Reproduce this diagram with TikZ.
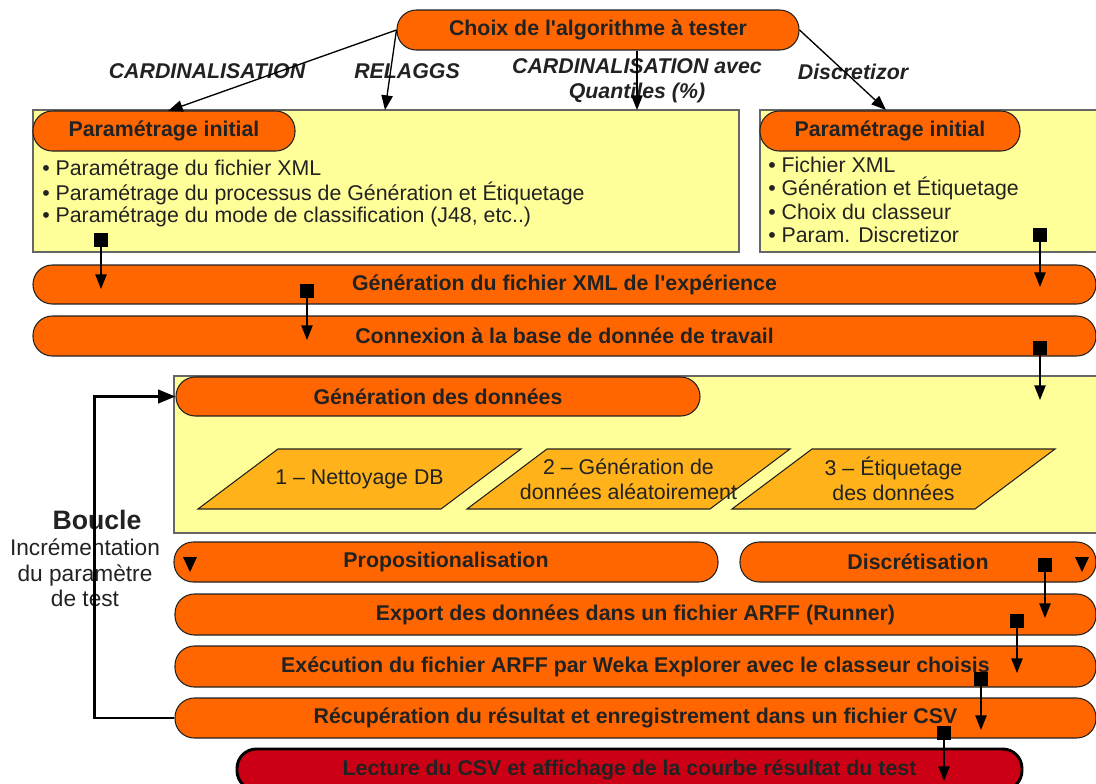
\documentclass[tikz,border=0pt]{standalone}
\usepackage{fontspec}
\setmainfont{Liberation Sans}[Ligatures=TeXOff]
\usetikzlibrary{arrows.meta}

\definecolor{barorange}{RGB}{255,102,0}
\definecolor{paleyellow}{RGB}{255,255,153}
\definecolor{stepgold}{RGB}{255,178,26}
\definecolor{endred}{RGB}{204,0,20}
\definecolor{ink}{RGB}{34,34,34}

\newcommand{\diagfont}{\fontsize{16}{19}\selectfont}

\tikzset{
    % boxat={x1}{y1}{x2}{y2}: node covering that rectangle (pixel units)
    boxat/.style n args={4}{at={({(#1+#3)/2},{(#2+#4)/2})},
        minimum width={(#3-#1)*0.75pt}, minimum height={(#4-#2)*0.75pt}},
    bar/.style={draw=ink, line width=0.8pt, fill=barorange, rounded corners=14.5pt,
        inner sep=0pt, font=\diagfont\bfseries, text=ink},
    panel/.style={draw=black!60, line width=0.8pt, fill=paleyellow, inner sep=0pt},
    stepbox/.style={draw=ink, line width=0.8pt, fill=stepgold},
    sqmark/.style={fill=black, inner sep=0pt, minimum size=10.5pt},
    link/.style={-{Triangle[length=11pt,width=8.5pt]}, line width=1pt},
    backline/.style={-{Triangle[length=13pt,width=10pt]}, line width=2.2pt},
    algo/.style={font=\diagfont\bfseries\itshape, text=ink},
    bullet/.style={anchor=west, inner sep=0pt, font=\diagfont, text=ink},
    plain/.style={font=\diagfont, text=ink, align=center}
}

\begin{document}
\begin{tikzpicture}[x=0.75pt, y=-0.75pt]
    \clip (0,0) rectangle (1096,783); % page = reference frame

    % choice of the algorithm
    \node[bar, boxat={397}{10}{799}{50}] (choix) {Choix de l'algorithme à tester};

    \node[algo] (lcard) at (207,71) {CARDINALISATION};
    \node[algo] (lrel) at (407,71) {RELAGGS};
    \node[algo, align=center] (lquant) at (637,81) {CARDINALISATION avec\\Quantiles (\%)};
    \node[algo] (ldisc) at (853,72) {Discretizor};

    % initial settings, two panels
    \node[panel, boxat={33}{110}{739}{252}] (leftpanel) {};
    \node[panel, boxat={760}{110}{1110}{252}] (rightpanel) {};
    \node[bar, boxat={33}{111}{295}{151}] (paramA) {Paramétrage initial};
    \node[bar, boxat={760}{111}{1020}{151}] (paramB) {Paramétrage initial};

    \foreach \txt [count=\i] in {Paramétrage du fichier XML,
        Paramétrage du processus de Génération et Étiquetage,
        {Paramétrage du mode de classification (J48, etc..)}}
    {
        \node[bullet] (pa\i) at (42,170+23.5*\i-23.5) {• \txt};
    }
    \foreach \txt [count=\i] in {Fichier XML, Génération et Étiquetage,
        Choix du classeur, Param. Discretizor}
    {
        \node[bullet] (pb\i) at (768,165+23.3*\i-23.3) {• \txt};
    }

    \coordinate (tipCard) at (168,111);
    \coordinate (tipRel) at (385,110);
    \coordinate (tipQuant) at (637,110);
    \coordinate (tipDisc) at (886,110);
    \draw[link] (choix.west) -- (tipCard);
    \draw[link] (choix.west) -- (tipRel);
    \draw[link] (choix.south -| tipQuant) -- (tipQuant);
    \draw[link] (choix.east) -- (tipDisc);

    % full width steps
    \node[bar, boxat={33}{265}{1096}{304}] (xml) {Génération du fichier XML de l'expérience};
    \node[bar, boxat={33}{316}{1096}{356}] (conn) {Connexion à la base de donnée de travail};

    % data generation panel
    \node[panel, boxat={174}{376}{1110}{533}] (datapanel) {};
    \node[bar, boxat={176}{377}{700}{416}] (gendata) {Génération des données};
    \foreach \xb/\txt [count=\i] in {198/{1 – Nettoyage DB},
        467/{2 – Génération de\\données aléatoirement},
        732/{3 – Étiquetage\\des données}}
    {
        \draw[stepbox] (\xb,509) -- ++(80,-60) -- ++(243,0) -- ++(-80,60) -- cycle;
        \node[plain] (step\i) at (\xb+161.5,479) {\txt};
    }

    \node[bar, boxat={174}{542}{718}{582}] (prop) {Propositionalisation};
    \node[bar, boxat={740}{542}{1096}{582}] (discr) {Discrétisation};
    \node[bar, boxat={175}{594}{1096}{635}] (export) {Export des données dans un fichier ARFF (Runner)};
    \node[bar, boxat={175}{646}{1096}{687}] (exec) {Exécution du fichier ARFF par Weka Explorer avec le classeur choisis};
    \node[bar, boxat={175}{698}{1096}{738}] (recup) {Récupération du résultat et enregistrement dans un fichier CSV};
    \node[bar, fill=endred, draw=black, line width=2.2pt, boxat={237}{749}{1022}{790}] (lecture)
        {Lecture du CSV et affichage de la courbe résultat du test};

    % loop
    \node[plain, font=\fontsize{20}{22}\selectfont\bfseries] (boucle) at (97,520) {Boucle};
    \node[plain, font=\fontsize{17}{19}\selectfont] (increment) at (85,573) {Incrémentation\\du paramètre\\de test};
    \draw[backline] (recup.west) -- ++(-80,0) |- (gendata.west);

    % square markers and links
    \foreach \i/\x/\ys/\ye in {1/101/240/289, 2/307/291/340, 3/1040/235/287,
        4/1040/348/400, 5/1045/565/618, 6/1017/621/673, 7/981/679/730, 8/944/733/781}
    {
        \node[sqmark] (sq\i) at (\x,\ys) {};
        \coordinate (end\i) at (\x,\ye);
        \draw[link] (sq\i) -- (end\i);
    }
    \fill[black] (183,557) -- (197,557) -- (190,572) -- cycle;
    \fill[black] (1075,557) -- (1089,557) -- (1082,572) -- cycle;
\end{tikzpicture}
\end{document}
